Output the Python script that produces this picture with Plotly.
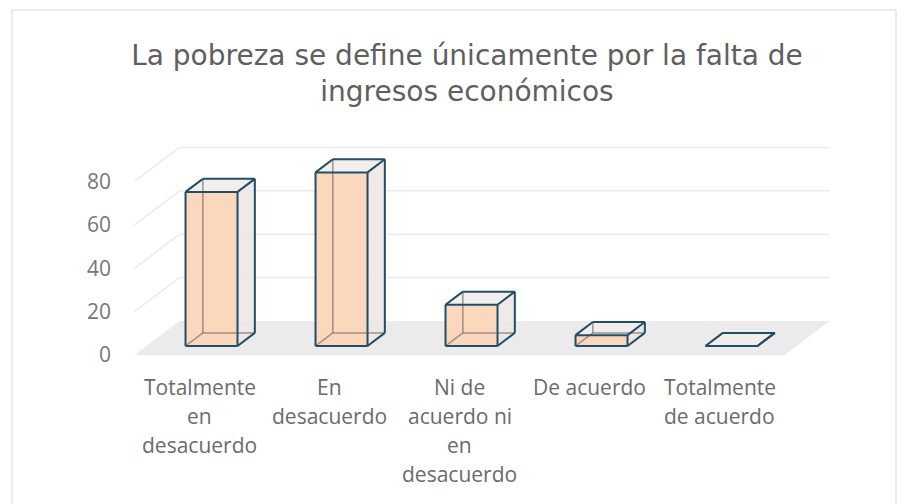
import plotly.graph_objects as go

# ---------------- data ----------------
categories = ["Totalmente en desacuerdo", "En desacuerdo",
              "Ni de acuerdo ni en desacuerdo", "De acuerdo",
              "Totalmente de acuerdo"]
label_lines = [["Totalmente", "en", "desacuerdo"],
               ["En", "desacuerdo"],
               ["Ni de", "acuerdo ni", "en", "desacuerdo"],
               ["De acuerdo"],
               ["Totalmente", "de acuerdo"]]
values = [71, 80, 19, 5, 0]
y_ticks = [0, 20, 40, 60, 80]
title_text = "La pobreza se define únicamente por la falta de<br>ingresos económicos"

# ---------------- oblique 3D projection helpers ----------------
KX = 0.346      # category units per unit of depth
KY = 15.67      # value units per unit of depth
HALF_W = 0.2    # half bar width (category units)
D0, D1 = 0.265, 0.65   # bar depth span
N = len(categories)
X_MIN, X_MAX = -0.5, N - 0.5


def P(x, y, d):
    return x + KX * d, y + KY * d


fig = go.Figure()


def poly(points, fill, line_color=None, width=0):
    xs = [p[0] for p in points] + [points[0][0]]
    ys = [p[1] for p in points] + [points[0][1]]
    fig.add_trace(go.Scatter(
        x=xs, y=ys, mode="lines", fill="toself", fillcolor=fill,
        line=dict(color=line_color or "rgba(0,0,0,0)", width=width),
        hoverinfo="skip", showlegend=False))


def segs(segments, color, width):
    xs, ys = [], []
    for a, b in segments:
        xs += [a[0], b[0], None]
        ys += [a[1], b[1], None]
    fig.add_trace(go.Scatter(
        x=xs, y=ys, mode="lines", line=dict(color=color, width=width),
        hoverinfo="skip", showlegend=False))


# floor
poly([P(X_MIN, 0, 0), P(X_MAX, 0, 0), P(X_MAX, 0, 1), P(X_MIN, 0, 1)], "#ebebeb")

# gridlines on left and back walls
grid = []
for v in y_ticks[1:]:
    grid.append((P(X_MIN, v, 0), P(X_MIN, v, 1)))
    grid.append((P(X_MIN, v, 1), P(X_MAX, v, 1)))
segs(grid, "#ebebeb", 1.5)

# bars
OUT = "#1f4e66"
for i, v in enumerate(values):
    x0, x1 = i - HALF_W, i + HALF_W
    # front face
    poly([P(x0, 0, D0), P(x1, 0, D0), P(x1, v, D0), P(x0, v, D0)], "rgba(251,212,184,0.92)")
    # right side face
    poly([P(x1, 0, D0), P(x1, 0, D1), P(x1, v, D1), P(x1, v, D0)], "rgba(237,231,229,0.9)")
    # top face
    poly([P(x0, v, D0), P(x1, v, D0), P(x1, v, D1), P(x0, v, D1)], "rgba(241,237,235,0.95)")
    # hidden edges seen through the faces
    segs([(P(x0, 0, D1), P(x0, v, D1)),
          (P(x0, 0, D1), P(x1, 0, D1)),
          (P(x0, 0, D0), P(x0, 0, D1))], "rgba(120,110,104,0.7)", 1.5)
    # visible outline
    segs([(P(x0, 0, D0), P(x1, 0, D0)),
          (P(x1, 0, D0), P(x1, v, D0)),
          (P(x1, v, D0), P(x0, v, D0)),
          (P(x0, v, D0), P(x0, 0, D0)),
          (P(x0, v, D0), P(x0, v, D1)),
          (P(x0, v, D1), P(x1, v, D1)),
          (P(x1, v, D0), P(x1, v, D1)),
          (P(x1, v, D1), P(x1, 0, D1)),
          (P(x1, 0, D0), P(x1, 0, D1))], OUT, 2)

# ---------------- layout ----------------
# page has an 8px body margin, so figure pixel = page pixel - 8
OFF = 8
W, H = 907 - OFF, 504 - OFF
ML, MT = 116 - OFF, 140 - OFF
plot_right = 850 - OFF
plot_bottom = 360 - OFF
MR, MB = W - plot_right, H - plot_bottom
plot_w = plot_right - ML
plot_h = plot_bottom - MT
px_per_cat = 130.0
px_per_val = 2.17
cat0_px = 199.6 - OFF
zero_px = 355.0 - OFF
x_range = [(ML - cat0_px) / px_per_cat, (plot_right - cat0_px) / px_per_cat]
y_range = [(zero_px - plot_bottom) / px_per_val, (zero_px - MT) / px_per_val]

annotations = []
for i, lines in enumerate(label_lines):
    for k, line in enumerate(lines):
        annotations.append(dict(
            x=i, xref="x", y=0, yref="paper", yanchor="middle",
            yshift=-(27 + 29 * k), text=line, showarrow=False,
            font=dict(family="Open Sans", size=21, color="#6b6b6b")))


def px_to_paper_x(px):
    return (px - OFF - ML) / plot_w


def py_to_paper_y(py):
    return (plot_bottom - (py - OFF)) / plot_h


fig.update_layout(
    width=W, height=H,
    margin=dict(l=ML, r=MR, t=MT, b=MB),
    paper_bgcolor="white", plot_bgcolor="white",
    title=dict(text=title_text, x=px_to_paper_x(467), xref="paper", xanchor="center",
               y=1 - (65 - OFF) / H, yref="container", yanchor="middle",
               font=dict(family="DejaVu Sans", size=28, color="#5f5f5f")),
    xaxis=dict(range=x_range, showgrid=False, zeroline=False, showline=False,
               showticklabels=False, ticks="", fixedrange=True),
    yaxis=dict(range=y_range, tickvals=y_ticks, showgrid=False, zeroline=False,
               showline=False, ticks="", fixedrange=True, ticklabelstandoff=4,
               tickfont=dict(family="Open Sans", size=21, color="#777777")),
    annotations=annotations,
    shapes=[dict(type="rect", xref="paper", yref="paper",
                 x0=px_to_paper_x(12), x1=px_to_paper_x(896),
                 y0=py_to_paper_y(520), y1=py_to_paper_y(10),
                 line=dict(color="#d9d9d9", width=1), fillcolor="rgba(0,0,0,0)",
                 layer="below")],
)

fig.write_html("out.html")
